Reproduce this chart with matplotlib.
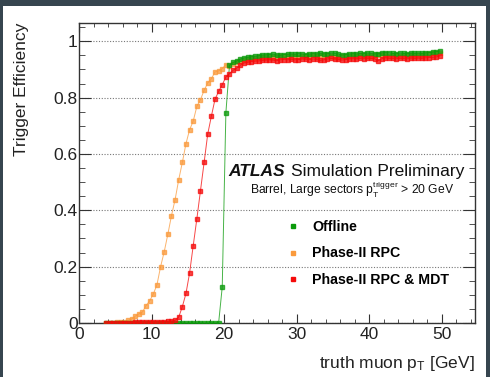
import numpy as np
import matplotlib
matplotlib.use('Agg')
import matplotlib.pyplot as plt
from matplotlib.lines import Line2D
from matplotlib.patches import Rectangle
from matplotlib.ticker import MultipleLocator

plt.rcParams['font.family'] = ['Liberation Sans', 'DejaVu Sans']
plt.rcParams['mathtext.fontset'] = 'custom'
plt.rcParams['mathtext.rm'] = 'Liberation Sans'
plt.rcParams['mathtext.it'] = 'Liberation Sans:italic'
plt.rcParams['mathtext.bf'] = 'Liberation Sans:bold'

# bin centres, 0.5 GeV bins from 3.5 to 50 GeV
pt_bins = np.arange(3.75, 50.0, 0.5)

eff_offline = [
    0.0, 0.0, 0.0, 0.0, 0.0, 0.0, 0.0, 0.0, 0.0, 0.0,
    0.0, 0.0, 0.0, 0.0, 0.0, 0.0, 0.0, 0.0, 0.0, 0.0,
    0.0, 0.0, 0.0, 0.0, 0.0, 0.0, 0.0, 0.0, 0.0, 0.0,
    0.0, 0.0,
    0.128, 0.746, 0.915, 0.925, 0.930, 0.937, 0.941, 0.943, 0.945, 0.947,
    0.948, 0.951, 0.952, 0.953, 0.954, 0.952, 0.950, 0.953, 0.954, 0.955,
    0.954, 0.956, 0.955, 0.953, 0.955, 0.956, 0.955, 0.957, 0.955, 0.956,
    0.958, 0.957, 0.955, 0.951, 0.953, 0.955, 0.956, 0.955, 0.957, 0.956,
    0.958, 0.957, 0.955, 0.956, 0.959, 0.960, 0.959, 0.957, 0.956, 0.958,
    0.957, 0.956, 0.958, 0.957, 0.958, 0.957, 0.958, 0.960, 0.961, 0.963,
    0.966,
]

eff_rpc = [
    0.0, 0.0, 0.0, 0.002, 0.003, 0.005, 0.009, 0.014, 0.024, 0.032,
    0.039, 0.062, 0.079, 0.103, 0.136, 0.200, 0.253, 0.315, 0.381, 0.438,
    0.509, 0.570, 0.637, 0.686, 0.717, 0.769, 0.793, 0.826, 0.852, 0.867,
    0.891, 0.895, 0.903, 0.917, 0.912, 0.920, 0.925, 0.930, 0.934, 0.937,
    0.939, 0.941, 0.943, 0.945, 0.946, 0.945, 0.943, 0.946, 0.947, 0.948,
    0.947, 0.949, 0.948, 0.946, 0.948, 0.949, 0.948, 0.950, 0.948, 0.949,
    0.951, 0.950, 0.948, 0.944, 0.946, 0.948, 0.949, 0.948, 0.950, 0.949,
    0.951, 0.950, 0.948, 0.949, 0.952, 0.953, 0.952, 0.950, 0.949, 0.951,
    0.950, 0.949, 0.951, 0.950, 0.951, 0.950, 0.951, 0.953, 0.954, 0.956,
    0.958, 0.958, 0.959,
]

eff_rpc_mdt = [
    0.0, 0.0, 0.0, 0.0, 0.0, 0.001, 0.001, 0.001, 0.002, 0.002,
    0.002, 0.003, 0.003, 0.003, 0.004, 0.004, 0.005, 0.006, 0.007, 0.009,
    0.021, 0.058, 0.105, 0.178, 0.275, 0.370, 0.470, 0.570, 0.671, 0.734,
    0.794, 0.822, 0.846, 0.873, 0.885, 0.897, 0.905, 0.915, 0.923, 0.925,
    0.928, 0.929, 0.930, 0.932, 0.933, 0.934, 0.933, 0.931, 0.934, 0.935,
    0.934, 0.936, 0.934, 0.935, 0.937, 0.936, 0.935, 0.937, 0.936, 0.932,
    0.934, 0.937, 0.939, 0.938, 0.936, 0.933, 0.935, 0.937, 0.938, 0.937,
    0.939, 0.938, 0.940, 0.939, 0.938, 0.931, 0.938, 0.941, 0.940, 0.939,
    0.938, 0.940, 0.939, 0.938, 0.940, 0.939, 0.940, 0.939, 0.941, 0.942,
    0.943, 0.944, 0.948,
]

labels = ['Offline', 'Phase-II RPC', 'Phase-II RPC & MDT']
colors = ['#0a9a0a', '#fa9a3c', '#f50a0a']

W, H = 490, 377
fig = plt.figure(figsize=(W / 100, H / 100), dpi=100, facecolor='#36454f')
fig.patches.append(Rectangle((3 / W, 0), 483 / W, 371 / H, transform=fig.transFigure,
                             facecolor='white', edgecolor='none', zorder=-10))

ax = fig.add_axes([79 / W, 1 - 323 / H, 396 / W, 300 / H])
ax.set_xlim(0, 54.6)
ax.set_ylim(0, 1.065)

# draw order: orange below, then green, red on top
ax.plot(pt_bins, eff_rpc, color=colors[1], lw=0.7, alpha=0.75, marker='s', ms=3.2,
        mec=colors[1], mfc=colors[1], zorder=3)
ax.plot(pt_bins, eff_offline, color=colors[0], lw=0.7, alpha=0.75, marker='s', ms=3.2,
        mec=colors[0], mfc=colors[0], zorder=4)
ax.plot(pt_bins, eff_rpc_mdt, color=colors[2], lw=0.7, alpha=0.75, marker='s', ms=3.2,
        mec=colors[2], mfc=colors[2], zorder=5)

ax.xaxis.set_major_locator(MultipleLocator(10))
ax.xaxis.set_minor_locator(MultipleLocator(2))
ax.yaxis.set_major_locator(MultipleLocator(0.2))
ax.yaxis.set_minor_locator(MultipleLocator(0.05))
ax.set_yticks([0, 0.2, 0.4, 0.6, 0.8, 1.0])
ax.set_yticklabels(['0', '0.2', '0.4', '0.6', '0.8', '1'])

ax.tick_params(axis='both', which='both', direction='in', top=True, right=True,
               color='#333333', labelsize=12.5, labelcolor='#222222')
ax.tick_params(axis='x', which='major', length=6.5, pad=3)
ax.tick_params(axis='x', which='minor', length=3.2)
ax.tick_params(axis='y', which='major', length=8.6, pad=1)
ax.tick_params(axis='y', which='minor', length=4.3)
for s in ax.spines.values():
    s.set_color('#333333')
    s.set_linewidth(1.0)

ax.yaxis.grid(True, which='major', linestyle=(0, (1, 1.5)), color='#777777', lw=0.8)
ax.set_axisbelow(True)

fig.text(22 / W, 1 - 23 / H, 'Trigger Efficiency', rotation=90, ha='center', va='top',
         fontsize=12.5, color='#222222')
fig.text(475 / W, 1 - 368 / H, r'truth muon p$_{\mathrm{T}}$ [GeV]', ha='right',
         va='baseline', fontsize=12.5, color='#222222')

fig.text(228 / W, 1 - 176 / H, 'ATLAS', fontsize=12.5, fontweight='bold',
         fontstyle='italic', color='#111111')
fig.text(291 / W, 1 - 176 / H, 'Simulation Preliminary', fontsize=12.5, color='#111111')
fig.text(250 / W, 1 - 195 / H,
         r'Barrel, Large sectors p$_{\mathrm{T}}^{\mathrm{trigger}}$ > 20 GeV',
         fontsize=8.7, color='#111111')

handles = [Line2D([], [], marker='s', ls='none', ms=3.5, color=c) for c in colors]
ax.legend(handles, labels, loc='upper left', bbox_to_anchor=(286 / W, 1 - 220 / H),
          bbox_transform=fig.transFigure, frameon=False, borderpad=0,
          borderaxespad=0, handlelength=1.0, handletextpad=0.85, labelspacing=0.88,
          prop={'weight': 'bold', 'size': 10.2})

fig.savefig('out.png', dpi=100, facecolor=fig.get_facecolor())
